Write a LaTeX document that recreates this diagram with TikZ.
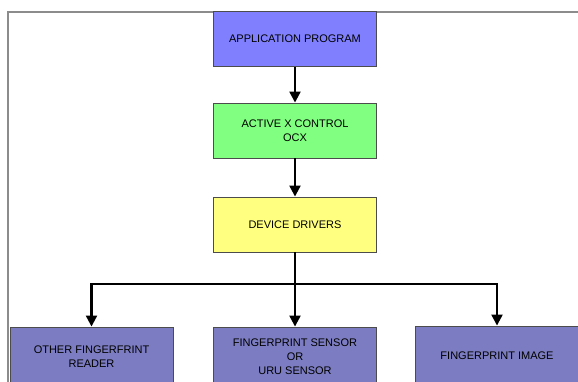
\documentclass[tikz,border=0pt]{standalone}
\usepackage{fontspec}
\setmainfont{Liberation Sans}
\usetikzlibrary{arrows.meta}

\definecolor{appblue}{RGB}{128,128,255}
\definecolor{ocxgreen}{RGB}{128,255,128}
\definecolor{drvyellow}{RGB}{255,255,128}
\definecolor{hwblue}{RGB}{124,124,194}

\tikzset{
    box/.style={draw=black!70, line width=0.9pt, minimum width=163, minimum height=55,
        inner sep=0pt, align=center, font=\fontsize{11}{14}\selectfont},
    flow/.style={line width=2.2pt, -{Triangle[width=11pt,length=11pt]}}
}

\begin{document}
\begin{tikzpicture}[x=1pt, y=-1pt]
    \useasboundingbox (0,0) rectangle (578,381);
    \clip (0,0) rectangle (578,381);

    % Outer frame (only top and left edges visible)
    \draw[black!45, line width=1.6pt] (8,385) -- (8,12) -- (580,12);

    % Software layers
    \node[box, fill=appblue] (app) at (295,39) {APPLICATION PROGRAM};
    \node[box, fill=ocxgreen] (ocx) at (295,130.5) {ACTIVE X CONTROL\\OCX};
    \node[box, fill=drvyellow] (drivers) at (295,224.5) {DEVICE DRIVERS};

    % Hardware / sources (bottom row, cut off at the lower edge)
    \node[box, fill=hwblue, minimum height=60] (other) at (91.5,357) {OTHER FINGERFRINT\\READER};
    \node[box, fill=hwblue, minimum height=60] (sensor) at (295,357) {FINGERPRINT SENSOR\\OR\\URU SENSOR};
    \node[box, fill=hwblue, minimum height=60] (image) at (497,356) {FINGERPRINT  IMAGE};

    % Connectors
    \draw[flow] (app) -- (ocx);
    \draw[flow] (ocx) -- (drivers);
    \coordinate (split) at (295,284);
    \draw[flow] (drivers) -- (sensor);
    \draw[flow] (split) -| (other);
    \draw[flow] (split) -| (image);
\end{tikzpicture}
\end{document}
